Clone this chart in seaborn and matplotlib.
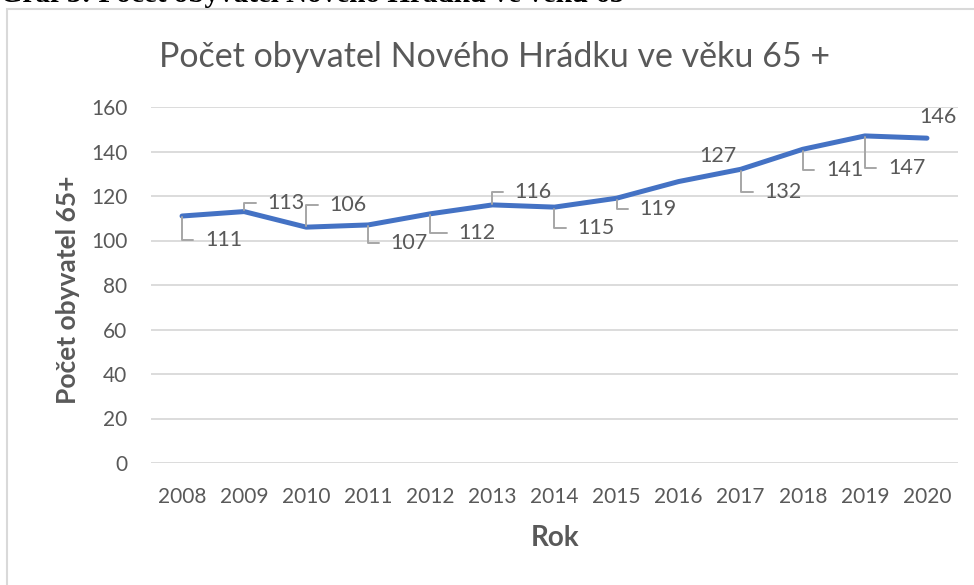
import matplotlib
matplotlib.use("Agg")
import matplotlib.pyplot as plt
import seaborn as sns
import pandas as pd
from matplotlib.patches import Rectangle

# data
years = [2008, 2009, 2010, 2011, 2012, 2013, 2014, 2015, 2016, 2017, 2018, 2019, 2020]
values = [111, 113, 106, 107, 112, 116, 115, 119, 126.5, 132, 141, 147, 146]
labels = ["111", "113", "106", "107", "112", "116", "115", "119", "127", "132", "141", "147", "146"]

# label placement (pixels from point: left edge x, centre y) and leader lines
label_offsets = [(23, -24), (23, 9), (23, 22), (22, -18), (28, -19), (22, 13), (23, -21),
                 (23, -11), (21, 26), (24, -23), (23, -21), (23, -32), (-8, 21)]
has_leader = [True, True, True, True, True, True, True, True, False, True, True, True, False]

df = pd.DataFrame({"Rok": years, "Pocet": values})

sns.set_style("white")
plt.rcParams['font.family'] = ['Lato', 'DejaVu Sans']

txt_col = "#595959"
W, H = 974, 585
fig = plt.figure(figsize=(W / 100, H / 100), dpi=100)
ax = fig.add_axes([151 / W, 1 - 463 / H, (958 - 151) / W, (463 - 107) / H])

sns.lineplot(data=df, x="Rok", y="Pocet", ax=ax, color="#4472C4", linewidth=3.6,
             solid_capstyle="round", clip_on=False, zorder=3)

ax.set_xlim(2007.5, 2020.5)
ax.set_ylim(0, 160)
ax.set_xticks(years)
ax.set_xticklabels([str(y) for y in years])
ax.set_yticks(range(0, 161, 20))
ax.yaxis.grid(True, color="#D9D9D9", linewidth=1.3)
ax.set_axisbelow(True)
for s in ax.spines.values():
    s.set_visible(False)
ax.tick_params(axis="both", length=0, labelsize=15, labelcolor=txt_col, pad=17)
ax.set_xlabel("")
ax.set_ylabel("")

for yr, v, lab, (dx, dy), lead in zip(years, values, labels, label_offsets, has_leader):
    props = None
    if lead:
        props = dict(arrowstyle="-", color="#A6A6A6", lw=1.4, relpos=(0, 0.5),
                     shrinkA=6, shrinkB=1,
                     connectionstyle="angle,angleA=0,angleB=90,rad=0")
    ax.annotate(lab, xy=(yr, v), xytext=(dx, dy), textcoords="offset pixels",
                ha="left", va="center", fontsize=15.5, color=txt_col,
                arrowprops=props, annotation_clip=False)

fig.text(495 / W, 1 - 57 / H, "Počet obyvatel Nového Hrádku ve věku 65 +",
         ha="center", va="center", fontsize=24.5, color=txt_col)
fig.text(68 / W, 1 - 290 / H, "Počet obyvatel 65+", rotation=90, ha="center",
         va="center", fontsize=19, fontweight="bold", color=txt_col)
fig.text(555 / W, 1 - 538 / H, "Rok", ha="center", va="center", fontsize=20,
         fontweight="bold", color=txt_col)

# cut-off caption above the chart box
fig.text(0, 1 - 2 / H, "Graf 3: Počet obyvatel Nového Hrádku ve věku 65",
         ha="left", va="baseline", fontsize=21, fontweight="bold",
         family=["Liberation Serif", "DejaVu Serif"], color="black")

# chart area border
fig.patches.append(Rectangle((7 / W, -0.1), 2, 1.1 - 9 / H, transform=fig.transFigure,
                             fill=False, edgecolor="#D9D9D9", linewidth=1.5))

fig.savefig("out.png", dpi=100)
